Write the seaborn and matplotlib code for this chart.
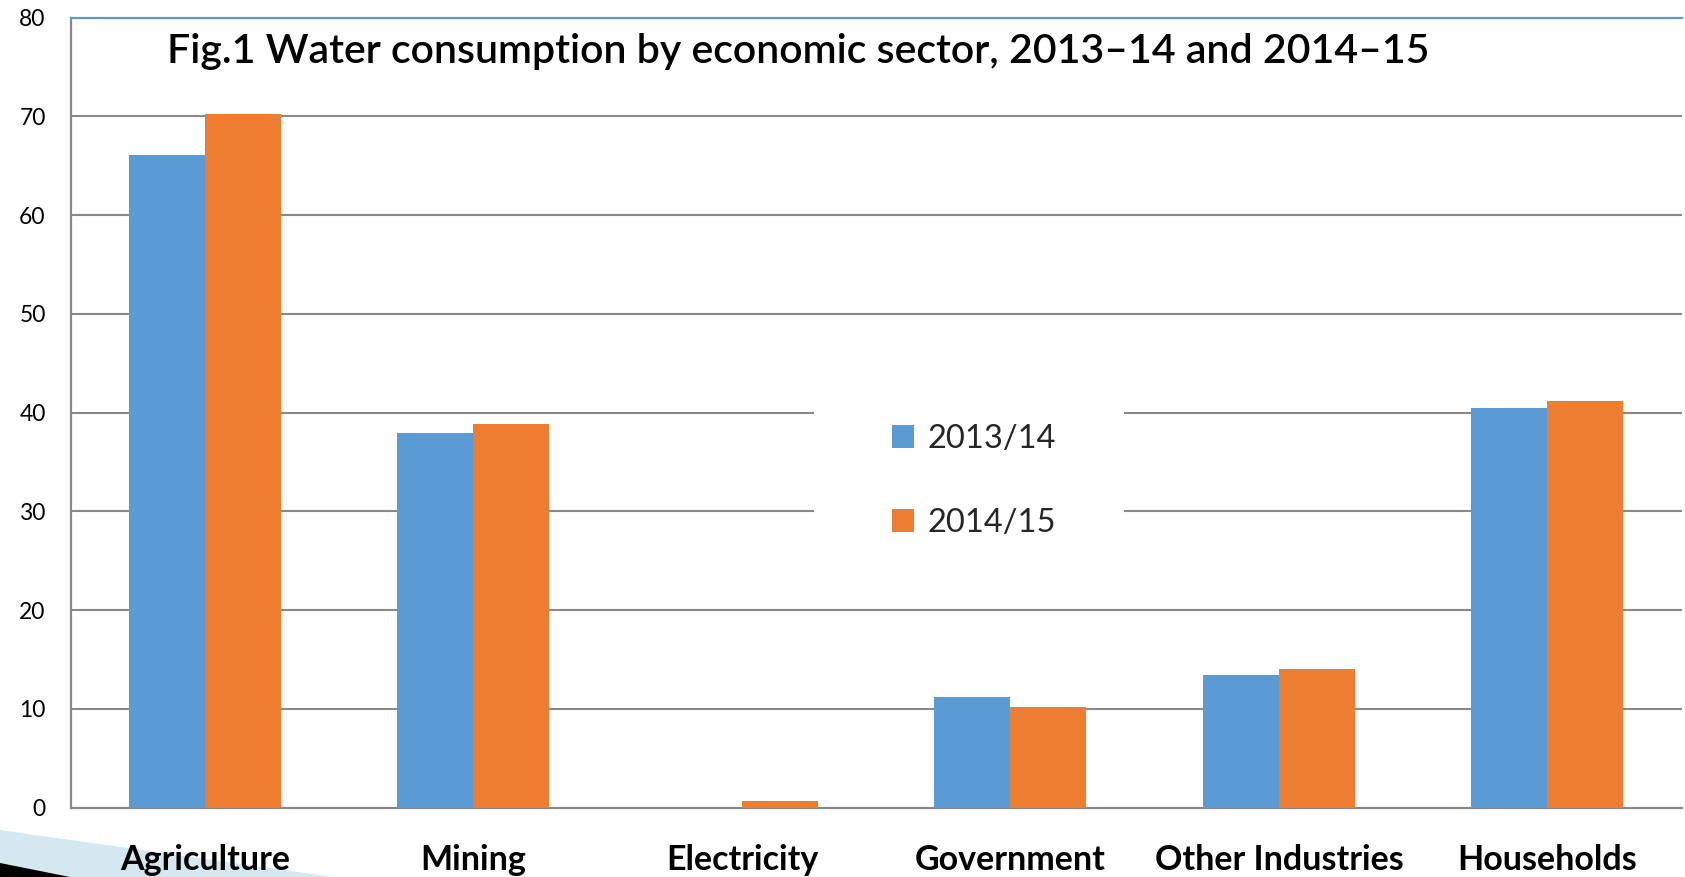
import matplotlib
matplotlib.use("Agg")
import matplotlib.pyplot as plt
import seaborn as sns
import pandas as pd
from matplotlib.patches import Polygon, Rectangle

sectors = ["Agriculture", "Mining", "Electricity", "Government", "Other Industries", "Households"]
years = ["2013/14", "2014/15"]
values_2013 = [66.1, 37.9, 0.0, 11.2, 13.4, 40.5]
values_2014 = [70.2, 38.9, 0.7, 10.2, 14.0, 41.2]
yticks = [0, 10, 20, 30, 40, 50, 60, 70, 80]
title = "Fig.1 Water consumption by economic sector, 2013\u201314 and 2014\u201315"

df = pd.DataFrame({
    "sector": sectors * 2,
    "year": [years[0]] * len(sectors) + [years[1]] * len(sectors),
    "value": values_2013 + values_2014,
})

sns.set_theme(style="white")
plt.rcParams["font.family"] = ["Lato", "DejaVu Sans"]

W, H = 1685, 877
fig = plt.figure(figsize=(W / 100, H / 100), dpi=100)
fig.patch.set_facecolor("white")

x0, x1 = 70.7, 1681.7
ytop, ybot = 17.7, 807.7
ax = fig.add_axes([x0 / W, (H - ybot) / H, (x1 - x0) / W, (ybot - ytop) / H])

blue = "#5B9BD5"
orange = "#ED7D31"
grid_c = "#898989"

sns.barplot(data=df, x="sector", y="value", hue="year", palette=[blue, orange],
            width=0.566, gap=0, saturation=1, ax=ax, zorder=3, legend=True,
            linewidth=0, edgecolor="none")

ax.set_xlim(-0.5, len(sectors) - 0.5)
ax.set_ylim(0, 80)
ax.set_yticks(yticks)
ax.set_yticklabels([str(v) for v in yticks], fontsize=16.5, color="#000000")
ax.tick_params(axis="y", length=0, pad=18)
ax.tick_params(axis="x", length=0, pad=26)
for lbl in ax.get_xticklabels():
    lbl.set_fontsize(24.5)
    lbl.set_fontweight("bold")
    lbl.set_color("#000000")
ax.set_xlabel("")
ax.set_ylabel("")

for v in yticks[1:-1]:
    ax.axhline(v, color=grid_c, lw=1.5, zorder=0.5)

for s in ["left", "bottom"]:
    ax.spines[s].set_color(grid_c)
    ax.spines[s].set_linewidth(1.6)
ax.spines["right"].set_visible(False)
ax.spines["top"].set_color(blue)
ax.spines["top"].set_linewidth(1.6)

# white box behind legend (breaks gridlines)
ax.add_patch(Rectangle((0.4611, 0.2756), 0.6538 - 0.4611, 0.592 - 0.2756,
                       transform=ax.transAxes, facecolor="white", edgecolor="none", zorder=0.8))

handles, labels = ax.get_legend_handles_labels()
ax.legend(handles, labels, loc="center", bbox_to_anchor=(974 / W, 1 - 481 / H),
          bbox_transform=fig.transFigure, frameon=False, fontsize=23.5,
          handlelength=0.68, handleheight=0.68, handletextpad=0.4,
          labelspacing=1.65, borderpad=0)

fig.text(167 / W, 1 - 62.7 / H, title, fontsize=29.5, fontweight="semibold",
         va="baseline", ha="left", color="#000000")

# decorative wedges bottom-left
fig.patches.append(Polygon([(0, 1 - 830 / H), (333 / W, 0), (0, 0)], closed=True,
                           transform=fig.transFigure, facecolor="#D5E8F0", edgecolor="none", zorder=-1))
fig.patches.append(Polygon([(0, 1 - 863 / H), (70 / W, 0), (0, 0)], closed=True,
                           transform=fig.transFigure, facecolor="#000000", edgecolor="none", zorder=-0.5))

fig.savefig("out.png", dpi=100)
